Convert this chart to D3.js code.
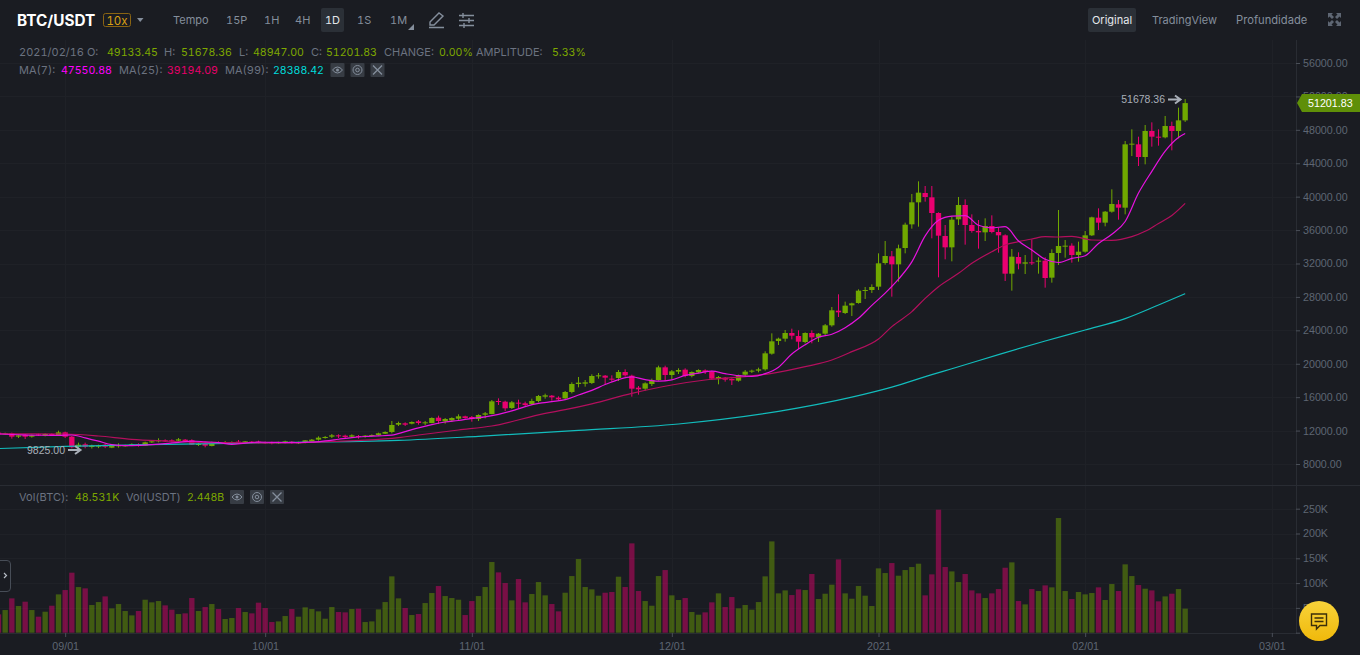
<!DOCTYPE html>
<html><head><meta charset="utf-8">
<script src="https://cdn.jsdelivr.net/npm/d3@7"></script>
<style>
html,body{margin:0;padding:0;background:#1a1c22;overflow:hidden}
svg{display:block}
text{font-family:Inter,"Liberation Sans",sans-serif;font-variant-numeric:tabular-nums;font-feature-settings:"tnum"}
.ax text{font-family:"Liberation Sans",sans-serif;font-size:10.7px;fill:#5e6673}
.ax line{stroke:#4a4f58}
.ax path{stroke:none}
</style></head><body>
<svg id="c" width="1360" height="655"></svg>
<script>
const opens=[11751,11631,11671,11272,11511,11272,11551,11392,11591,11472,11791,11272,10075,10354,10035,10075,10314,9955,10155,10195,10274,10354,10195,10594,10713,10833,10833,10793,10913,10833,10314,10394,10155,10634,10514,10554,10674,10514,10674,10674,10594,10594,10474,10554,10674,10514,10554,10713,10913,11112,11272,11432,11392,11272,11352,11272,11352,11472,11631,11831,12708,12868,12828,13107,12868,12908,13546,13107,13227,13426,13706,13626,13387,13905,13985,15541,15461,14703,15342,15262,15182,15541,16060,16180,15940,15861,16619,17576,17616,17696,18494,18574,18215,18294,19013,18574,17137,17018,17576,18055,19571,18654,19053,19292,18534,18973,19212,19053,18215,18334,18175,17975,18693,19053,19172,19332,21207,22723,23003,23681,23322,22604,23681,23162,23601,24599,26354,26075,26993,27272,28748,28828,29227,32060,32858,31900,33855,36688,39322,40439,39920,38045,35292,33935,37287,39002,36608,35890,35731,36489,35771,35372,30783,32778,31980,32140,32219,32339,30304,33256,34054,34134,33017,33416,35371,37486,36888,38204,39082,38683,46264,46264,44748,47860,47181,47102,48458,47860,49133.45];
const highs=[11831,11751,11751,11511,11591,11511,11631,11671,11671,11990,11871,11352,10554,10554,10314,10314,10474,10314,10474,10314,10474,10474,10674,10873,11072,10953,10953,11112,10993,10953,10554,10474,10674,10713,10753,10713,10873,10753,10753,10793,10674,10674,10674,10793,10753,10674,10873,10993,11312,11352,11591,11551,11511,11551,11472,11472,11551,11751,11910,13147,13067,12988,13107,13267,13147,13586,13786,13506,13586,13945,13786,13746,13945,14225,15661,15860,15581,15541,15701,15461,15821,16260,16419,16260,16100,16738,17776,18414,18055,18733,18893,18653,18614,19252,19332,18693,17337,17776,18215,19771,19771,19252,19452,19452,19092,19332,19332,19172,18534,18414,18255,18693,19252,19292,19531,21486,23641,23122,24040,24200,24000,23760,24000,23681,24758,26793,28309,27432,27312,28908,29187,29506,33217,34693,33496,34254,36888,40319,41835,41277,41277,38125,36608,37646,39960,39681,37885,37207,37406,37766,36289,35491,33736,33337,33017,34893,32738,32738,33696,38404,34812,34414,34613,35890,37606,38603,38284,40877,39601,46663,48059,47181,48578,48897,48059,49655,48977,50653,51678.36];
const lows=[11432,11551,11033,11112,10993,11152,11352,11312,11352,11352,11112,9875,9825,9880,9850,9900,9900,9900,9955,10075,10155,10075,10155,10514,10594,10634,10594,10713,10634,10274,10155,9995,10115,10434,10394,10474,10474,10474,10474,10474,10394,10354,10394,10474,10434,10394,10474,10674,10793,11033,11112,11112,11112,11112,11033,11152,11272,11392,11591,11671,12549,12549,12748,12708,12669,12868,12788,12828,13028,13267,13426,13067,13147,13466,13945,15063,14344,14584,14664,14943,15063,15382,15821,15581,15581,15781,16459,17177,17257,17576,18215,17536,17856,17935,18454,16060,16299,16778,17337,17975,17935,18135,18773,18374,18374,18853,18773,18055,17536,17856,17457,17856,18534,18893,18973,19172,21088,22245,22643,22923,21766,22444,22444,22604,23441,24439,25596,25955,25716,27192,27751,28469,28828,31860,28030,29825,33217,36170,36409,39402,35012,30344,32499,32259,36608,34254,35691,33776,34693,35611,33297,29905,28748,31301,30743,31820,30783,29107,29706,31820,32698,32099,32219,33296,35291,36010,36448,38084,37246,37885,44867,43670,43870,45985,46104,46982,45546,46982,48947];
const closes=[11551,11671,11272,11432,11272,11432,11472,11591,11472,11791,11272,9995,10314,10075,10195,10195,10075,10195,10235,10235,10354,10235,10594,10713,10833,10753,10713,10953,10713,10314,10394,10195,10634,10514,10634,10634,10554,10713,10594,10554,10514,10474,10594,10713,10554,10594,10833,10913,11152,11232,11432,11312,11232,11432,11232,11392,11472,11671,11831,12668,12908,12708,13028,12908,12988,13506,13147,13387,13506,13706,13506,13387,13866,14065,15501,15422,14664,15382,15222,15063,15541,16140,16220,15980,15741,16619,17576,17736,17776,18534,18614,18334,18095,19013,18614,17018,16938,17656,18055,19571,18654,19092,19252,18534,19013,19252,19013,18215,18414,18095,18015,18614,19053,19172,19332,21247,22683,23003,23681,23362,22643,23681,23162,23601,24599,26394,26155,26953,27232,28748,28828,29187,32020,32898,31900,33815,36648,39322,40479,39960,38045,35332,33935,37247,39002,36608,35890,35731,36489,35771,35372,30783,32818,31980,32140,32060,32339,30264,33256,34094,34134,33017,33416,35371,37526,36888,38204,39122,38683,46264,46344,44748,47860,47181,47102,48458,47860,49133.45,51201.83];
const volumes=[37,45.7,69.2,53.8,62.5,45.7,32.3,42.3,54.4,77.3,86,121,92,89.4,55.8,61.8,73.2,49,57.8,43.7,34.9,43.7,66.5,61.2,63.8,55.1,46.4,37.6,39,69.9,43.7,51.7,57.8,47.7,27.6,29.6,49.7,41.7,39,60.5,49.7,21.5,22.8,33.6,47.7,32.3,51.1,47.7,43,28.2,51.7,41.7,41,47.7,48.4,21.5,22.8,47,61.8,113.6,69.2,49.7,35.6,37.6,59.8,80,94.1,73.9,69.9,66.5,35.6,63.8,73.9,92.1,142.5,121.6,100.1,65.2,108.2,61.2,78,102.1,75.3,57.8,43,80.6,114.2,148.5,92.1,87.4,74.6,80.6,82,112.9,92.1,180.1,84,63.8,54.4,114.2,126.3,75.3,65.9,69.9,41.7,36.3,41,61.2,79.3,51.7,71.9,49.1,55.8,46.4,61.8,113.6,184.1,79.3,85.3,75.9,87.4,86,118.3,67.9,78.6,96.8,147.8,79.3,68.5,94.1,74.6,53.8,129.7,120.3,140.4,114.9,126.3,132.4,139.1,75.3,117.6,248,132.4,123.6,102.1,118.3,85.3,79.3,69.9,79.3,88,131,141.8,63.8,57.1,88,84,95.4,91.4,231.2,84,67.9,82,77.3,80,91.4,65.9,98.1,84,137.8,114.2,96.1,88.7,85.3,63.2,73.2,78.6,88,48.531];

const ma7Days=[0,3,5,7,9,11,13,15,17,19,21,23,25,27,29,31,33,35,37,39,41,43,45,47,49,51,53,55,57,59,61,63,65,67,69,71,73,75,77,79,81,83,85,87,89,91,93,95,97,99,101,103,105,107,109,111,113,115,117,119,121,123,125,127,129,131,133,135,137,139,141,143,145,147,149,151,153,155,157,159,161,163,165,167,169,171,173,175,177,178];
const ma7=[11600,11500,11450,11440,11420,11470,11130,10730,10310,10190,10220,10310,10430,10600,10750,10660,10560,10340,10510,10610,10600,10570,10570,10610,10760,10960,11160,11290,11360,11460,11880,12330,12720,13030,13210,13470,13650,13940,14350,14870,15250,15460,15700,16260,16810,17510,18100,18420,18090,17910,18070,18600,18880,19110,18810,18570,18490,18810,19590,21170,22280,23170,23530,24320,25440,26990,28450,30120,32190,35300,37170,37680,37720,36580,36270,36410,34690,33620,32500,32120,32610,32930,34400,35510,37030,40430,43030,45450,47080,47550.88];
const ma25Days=[0,5,10,15,20,25,30,35,40,45,50,55,60,63,69,74,82,85,89,95,101,106,112,116,121,125,128,132,134,137,139,141,144,146,149,151,153,155,157,159,161,164,167,170,172,174,176,178];
const ma25=[11600,11620,11590,11350,10950,10750,10600,10560,10530,10560,10700,10850,11150,11470,12070,12550,14065,14500,15200,16459,17456,18055,18454,18853,19651,20449,21446,22963,24439,26234,27831,29227,30823,32020,33416,34215,34613,34933,35212,35171,35251,34812,34773,35212,35850,36800,37750,39194.09];
const ma99Days=[0,10,20,40,60,72,87,102,117,128,134,140,143,150,157,163,169,174,178];
const ma99=[9850,10100,10280,10550,10830,11312,12030,12788,14300,16000,17200,18700,19400,21100,22720,24040,25400,27030,28388.42];

const priceTicks=[8000,12000,16000,20000,24000,28000,32000,36000,40000,44000,48000,52000,56000];
const volumeTicks=[0,50,100,150,200,250];
const monthDays=[10,40,71,101,132,163,191];
const monthLabels=["09/01","10/01","11/01","12/01","2021","02/01","03/01"];
const lastDay=opens.length-1;

const up="#70a800",down="#ea0070",bg="#1a1c22",grid="#1f2127",axisC="#292c33";
const x=d3.scaleLinear().domain([0,lastDay]).range([-1.5,-1.5+lastDay*200/30]);
const y=d3.scaleLinear().domain([8000,56000]).range([464,63]);
const yv=d3.scaleLinear().domain([0,250]).range([632.7,508.7]);
const svg=d3.select("#c");
svg.append("rect").attr("width",1360).attr("height",655).attr("fill",bg);

// grid
const g=svg.append("g").attr("stroke",grid).attr("stroke-width",1);
g.selectAll(".h").data(priceTicks).join("line").attr("x1",0).attr("x2",1296).attr("y1",d=>Math.round(y(d))+.5).attr("y2",d=>Math.round(y(d))+.5);
g.selectAll(".v").data(volumeTicks.slice(1)).join("line").attr("x1",0).attr("x2",1296).attr("y1",d=>Math.round(yv(d))+.5).attr("y2",d=>Math.round(yv(d))+.5);
g.selectAll(".m").data(monthDays).join("line").attr("x1",d=>Math.round(x(d))+.5).attr("x2",d=>Math.round(x(d))+.5).attr("y1",40).attr("y2",633);

// axes lines
svg.append("line").attr("x1",1296.5).attr("x2",1296.5).attr("y1",40).attr("y2",634).attr("stroke",axisC);
svg.append("line").attr("x1",0).attr("x2",1360).attr("y1",485.5).attr("y2",485.5).attr("stroke",axisC);
svg.append("line").attr("x1",0).attr("x2",1296).attr("y1",633.5).attr("y2",633.5).attr("stroke",axisC);

// volume
const bw=5.33;
svg.append("g").selectAll("rect").data(volumes).join("rect")
 .attr("x",(d,i)=>x(i)-bw/2).attr("width",bw)
 .attr("y",d=>yv(d)).attr("height",d=>yv(0)-yv(d))
 .attr("fill",(d,i)=>closes[i]>=opens[i]?up:down).attr("fill-opacity",.45);

// candles
const cg=svg.append("g");
cg.selectAll("line").data(opens).join("line")
 .attr("x1",(d,i)=>x(i)).attr("x2",(d,i)=>x(i))
 .attr("y1",(d,i)=>y(highs[i])).attr("y2",(d,i)=>y(lows[i]))
 .attr("stroke",(d,i)=>closes[i]>=opens[i]?up:down).attr("stroke-width",1);
cg.selectAll("rect").data(opens).join("rect")
 .attr("x",(d,i)=>x(i)-bw/2).attr("width",bw)
 .attr("y",(d,i)=>y(Math.max(d,closes[i])))
 .attr("height",(d,i)=>Math.max(1,Math.abs(y(d)-y(closes[i]))))
 .attr("fill",(d,i)=>closes[i]>=opens[i]?up:down);

// moving averages
const lineOf=(days,vals)=>d3.line().curve(d3.curveMonotoneX).x((d,i)=>x(days[i])).y(d=>y(d))(vals);
svg.append("path").attr("d",lineOf(ma99Days,ma99)).attr("fill","none").attr("stroke","#12bcbc").attr("stroke-width",1.2);
svg.append("path").attr("d",lineOf(ma25Days,ma25)).attr("fill","none").attr("stroke","#b30f5d").attr("stroke-width",1.2);
svg.append("path").attr("d",lineOf(ma7Days,ma7)).attr("fill","none").attr("stroke","#e812e0").attr("stroke-width",1.2);

// axes
svg.append("g").attr("class","ax").attr("transform","translate(1296,0)")
 .call(d3.axisRight(y).tickValues(priceTicks).tickSize(4).tickPadding(3).tickFormat(d=>d3.format(".2f")(d)));
svg.append("g").attr("class","ax").attr("transform","translate(1296,0)")
 .call(d3.axisRight(yv).tickValues(volumeTicks).tickSize(4).tickPadding(3).tickFormat(d=>d?d+"K":""));
svg.append("g").attr("class","ax").attr("transform","translate(0,633)")
 .call(d3.axisBottom(x).tickValues(monthDays).tickSize(4).tickPadding(5).tickFormat((d,i)=>monthLabels[i]));

// last price tag
const lastClose=closes[lastDay], ty=y(lastClose);
svg.append("path").attr("d",`M1297 ${ty}L1302 ${ty-9}H1360V${ty+9}H1302Z`).attr("fill","#5f8f08");
svg.append("text").attr("x",1308).attr("y",ty+4).attr("fill","#fff").attr("font-size",10.7).style("font-family","Liberation Sans").text(d3.format(".2f")(lastClose));

// high / low annotations
const ann="#a9afb8";
function note(txt,xT,yT){
 svg.append("text").attr("x",xT-4).attr("y",yT+3.5).attr("text-anchor","end").attr("fill",ann).attr("font-size",10.5).style("font-family","Liberation Sans").text(txt);
 svg.append("path").attr("d",`M${xT-1} ${yT}H${xT+10}M${xT+6} ${yT-4}L${xT+11.5} ${yT}L${xT+6} ${yT+4}`).attr("fill","none").attr("stroke",ann).attr("stroke-width",2);
}
note(d3.format(".2f")(d3.max(highs)),1169,99.5);
note(d3.format(".2f")(d3.min(lows)),69,450);

// toolbar
function T(s,xx,yy,c,fs,w,anchor){return svg.append("text").attr("x",xx).attr("y",yy).attr("fill",c).attr("font-size",fs).attr("font-weight",w||400).attr("text-anchor",anchor||"start").text(s);}
const mut="#848e9c",lab="#6b7280",gv="#7ea800";
T("BTC/USDT",17,26,"#fff",15.3,700);
svg.append("rect").attr("x",103.5).attr("y",13.5).attr("width",27).attr("height",13).attr("rx",2).attr("fill","none").attr("stroke","#8a6412");
T("10x",117,24.5,"#d9a014",11.5,400,"middle");
svg.append("path").attr("d","M137 18H143.5L140.2 22Z").attr("fill","#848e9c");
[["Tempo",173],["15P",226],["1H",264],["4H",295],["1S",357],["1M",390]].forEach(d=>T(d[0],d[1],24,mut,11));
svg.append("rect").attr("x",321).attr("y",8).attr("width",23).attr("height",24).attr("rx",2).attr("fill","#2b3037");
T("1D",332.5,24,"#e5e8ec",11,400,"middle");
svg.append("path").attr("d","M408 30H414V24Z").attr("fill","#848e9c");
svg.append("path").attr("d","M430 22L439 13L443 16L434 25H430ZM429 27.5H444").attr("fill","none").attr("stroke","#848e9c").attr("stroke-width",1.4);
svg.append("path").attr("d","M459 15.5H474M459 20.5H474M459 25.5H474M463 13V18M469 18V23M464 23V28").attr("fill","none").attr("stroke","#848e9c").attr("stroke-width",1.4);
svg.append("rect").attr("x",1088).attr("y",8).attr("width",48).attr("height",24).attr("rx",2).attr("fill","#2b3037");
T("Original",1112,24,"#e5e8ec",11,400,"middle");
T("TradingView",1152,24,mut,11);
T("Profundidade",1236,24,mut,11.2);
svg.append("path").attr("d","M1328 13H1333L1331.5 14.5L1334 17L1332 19L1329.5 16.5L1328 18ZM1341 13V18L1339.5 16.5L1337 19L1335 17L1337.5 14.5L1336 13ZM1328 26V21L1329.5 22.5L1332 20L1334 22L1331.5 24.5L1333 26ZM1341 26H1336L1337.5 24.5L1335 22L1337 20L1339.5 22.5L1341 21Z").attr("fill","#5e6673");

// info rows
const rowLab=11, rowVal=10.6;
[["2021/02/16 O:",19,lab,rowLab],["49133.45",107,gv,rowVal],["H:",164,lab,rowLab],["51678.36",181,gv,rowVal],["L:",239,lab,rowLab],["48947.00",253,gv,rowVal],["C:",311,lab,rowLab],["51201.83",326,gv,rowVal],["CHANGE:",384,lab,rowLab],["0.00%",439,gv,rowVal],["AMPLITUDE:",476,lab,rowLab],["5.33%",552,gv,rowVal]].forEach(d=>T(d[0],d[1],56,d[2],d[3]));
[["MA(7):",19,lab,rowLab],["47550.88",61,"#f0f",rowVal],["MA(25):",119,lab,rowLab],["39194.09",167,"#e6006a",rowVal],["MA(99):",225,lab,rowLab],["28388.42",273,"#00dcdc",rowVal]].forEach(d=>T(d[0],d[1],74,d[2],d[3]));
[["Vol(BTC):",19,lab,rowLab],["48.531K",75,gv,rowVal],["Vol(USDT)",126,lab,rowLab],["2.448B",187,gv,rowVal]].forEach(d=>T(d[0],d[1],501,d[2],d[3]));

function icons(x0,dx,yy){
 [0,1,2].forEach(k=>{svg.append("rect").attr("x",x0+k*dx).attr("y",yy).attr("width",14).attr("height",14).attr("rx",1).attr("fill","#373c44");});
 const s="#848e9c";
 svg.append("path").attr("d",`M${x0+2} ${yy+7}Q${x0+7} ${yy+1} ${x0+12} ${yy+7}Q${x0+7} ${yy+13} ${x0+2} ${yy+7}Z`).attr("fill","none").attr("stroke",s);
 svg.append("circle").attr("cx",x0+7).attr("cy",yy+7).attr("r",1.5).attr("fill",s);
 svg.append("circle").attr("cx",x0+dx+7).attr("cy",yy+7).attr("r",4.5).attr("fill","none").attr("stroke",s);
 svg.append("circle").attr("cx",x0+dx+7).attr("cy",yy+7).attr("r",1.8).attr("fill","none").attr("stroke",s);
 svg.append("path").attr("d",`M${x0+2*dx+2.5} ${yy+2.5}L${x0+2*dx+11.5} ${yy+11.5}M${x0+2*dx+11.5} ${yy+2.5}L${x0+2*dx+2.5} ${yy+11.5}`).attr("stroke",s).attr("stroke-width",1.3);
}
icons(330.5,20,63);
icons(230,20,490);

// side handle
svg.append("path").attr("d","M0 560.5H7Q10.5 560.5 10.5 564V588Q10.5 591.5 7 591.5H0").attr("fill",bg).attr("stroke","#474d57");
svg.append("path").attr("d","M4 573L6.5 575.5L4 578").attr("fill","none").attr("stroke","#b7bdc6").attr("stroke-width",1.2);

// chat button
const defs=svg.append("defs").append("linearGradient").attr("id","gold").attr("x1",0).attr("x2",0).attr("y1",0).attr("y2",1);
defs.append("stop").attr("offset",0).attr("stop-color","#f8d33a");
defs.append("stop").attr("offset",1).attr("stop-color","#f0b90b");
svg.append("circle").attr("cx",1319).attr("cy",621).attr("r",20).attr("fill","url(#gold)");
svg.append("path").attr("d","M1311.5 614H1326.5V625.5H1320L1316.5 629V625.5H1311.5Z").attr("fill","none").attr("stroke","#3b2f0a").attr("stroke-width",1.4);
svg.append("path").attr("d","M1314.5 618H1323.5M1314.5 621.5H1323.5").attr("stroke","#3b2f0a").attr("stroke-width",1.3);
</script></body></html>
